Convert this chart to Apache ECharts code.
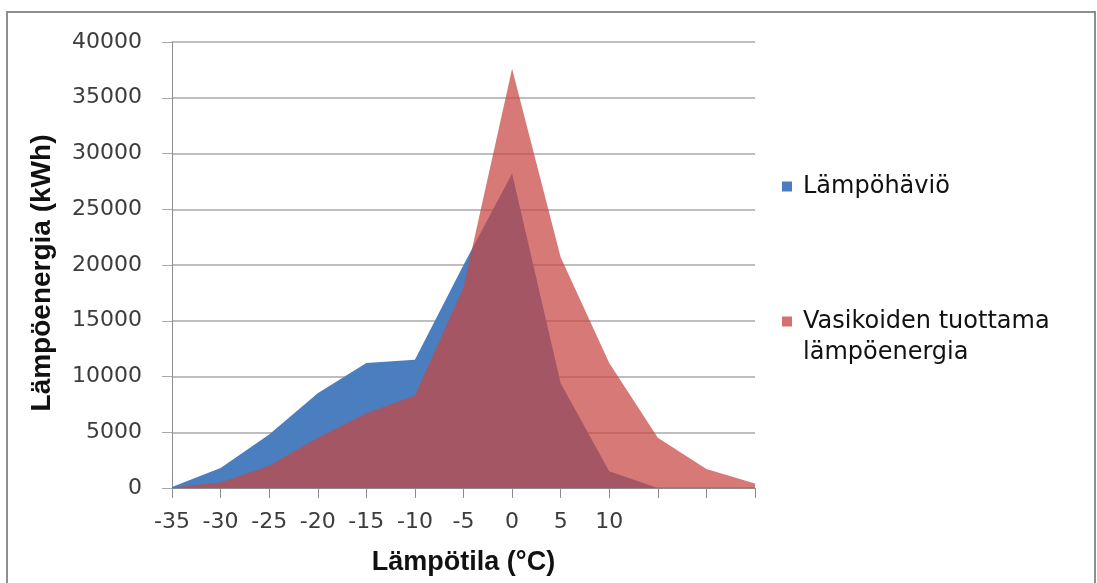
<!DOCTYPE html>
<html>
<head>
<meta charset="utf-8">
<script src="https://cdn.jsdelivr.net/npm/echarts@6/dist/echarts.min.js"></script>
<style>
  html, body { margin: 0; padding: 0; background: #ffffff; }
  #chart { width: 1097px; height: 583px; }
</style>
</head>
<body>
<div id="chart"></div>
<script>
// Outdoor temperature classes (°C)
const temperatures = ['-35', '-30', '-25', '-20', '-15', '-10', '-5', '0', '5', '10', '15', '20', '25'];
// Labels printed under the ticks (the warmest classes are left unlabelled)
const tickLabels = ['-35', '-30', '-25', '-20', '-15', '-10', '-5', '0', '5', '10', '', '', ''];
// Heat loss of the building per temperature class (kWh)
const heatLoss = [100, 1800, 4800, 8500, 11200, 11500, 20000, 28200, 9400, 1500, 0, 0, 0];
// Heat produced by the calves per temperature class (kWh)
const calfHeat = [50, 500, 2000, 4500, 6700, 8300, 18000, 37600, 20700, 11200, 4500, 1700, 400];

const seriesNames = ['Lämpöhäviö', 'Vasikoiden tuottama lämpöenergia'];
// Wrapped legend text; the leading empty line keeps the marker beside the first line
const legendLines = { 'Vasikoiden tuottama lämpöenergia': '\nVasikoiden tuottama\nlämpöenergia' };

const blue = '#4a7ebe';
const red = 'rgba(200,70,66,0.72)';
const gridGray = '#a9a9a9';
const labelFont = 'DejaVu Sans';
const titleFont = 'Liberation Sans';

const chart = echarts.init(document.getElementById('chart'), null, { renderer: 'canvas' });

const legendBase = {
  orient: 'vertical',
  left: 782,
  padding: 0,
  itemWidth: 10,
  itemHeight: 10,
  icon: 'rect',
  selectedMode: false,
  formatter: name => legendLines[name] || name,
  textStyle: { fontFamily: labelFont, fontSize: 24, color: '#111111', lineHeight: 31, padding: [0, 0, 0, 6] }
};

chart.setOption({
  animation: false,
  backgroundColor: '#ffffff',
  grid: { left: 172, right: 342, top: 42, bottom: 95 },
  legend: [
    Object.assign({}, legendBase, {
      top: 171,
      data: [{ name: seriesNames[0], itemStyle: { color: blue } }]
    }),
    Object.assign({}, legendBase, {
      top: 275,
      data: [{ name: seriesNames[1], itemStyle: { color: '#d4716e' } }]
    })
  ],
  graphic: [{
    type: 'rect',
    silent: true,
    z: 100,
    shape: { x: 7, y: 12, width: 1088, height: 620 },
    style: { fill: 'none', stroke: '#8e8e8e', lineWidth: 2 }
  }],
  xAxis: {
    type: 'category',
    data: temperatures,
    boundaryGap: false,
    name: 'Lämpötila (°C)',
    nameLocation: 'middle',
    nameGap: 61,
    nameTextStyle: { fontFamily: titleFont, fontWeight: 'bold', fontSize: 27, color: '#111111' },
    axisLine: { lineStyle: { color: '#8c8c8c', width: 1 } },
    axisTick: { show: true, interval: 0, length: 10, lineStyle: { color: '#8c8c8c' } },
    axisLabel: {
      interval: 0,
      margin: 23,
      fontFamily: labelFont,
      fontSize: 22,
      color: '#3c3c3c',
      formatter: (v, i) => tickLabels[i]
    },
    splitLine: { show: false }
  },
  yAxis: {
    type: 'value',
    min: 0,
    max: 40000,
    interval: 5000,
    name: 'Lämpöenergia (kWh)',
    nameLocation: 'middle',
    nameGap: 116,
    nameRotate: 90,
    nameTextStyle: { fontFamily: titleFont, fontWeight: 'bold', fontSize: 28, color: '#111111', padding: [0, 16, 0, 0] },
    axisLine: { show: true, lineStyle: { color: '#8c8c8c', width: 1 } },
    axisTick: { show: true, length: 10, lineStyle: { color: gridGray } },
    axisLabel: { margin: 30, fontFamily: labelFont, fontSize: 22, color: '#3c3c3c', formatter: v => String(v) },
    splitLine: { show: true, lineStyle: { color: gridGray, width: 1.5 } }
  },
  series: [
    {
      name: seriesNames[0],
      type: 'line',
      data: heatLoss,
      symbol: 'none',
      lineStyle: { width: 0 },
      itemStyle: { color: blue },
      areaStyle: { color: blue, opacity: 1 },
      z: 2
    },
    {
      name: seriesNames[1],
      type: 'line',
      data: calfHeat,
      symbol: 'none',
      lineStyle: { width: 0 },
      itemStyle: { color: '#d4716e' },
      areaStyle: { color: red, opacity: 1 },
      z: 3
    }
  ]
});
</script>
</body>
</html>
